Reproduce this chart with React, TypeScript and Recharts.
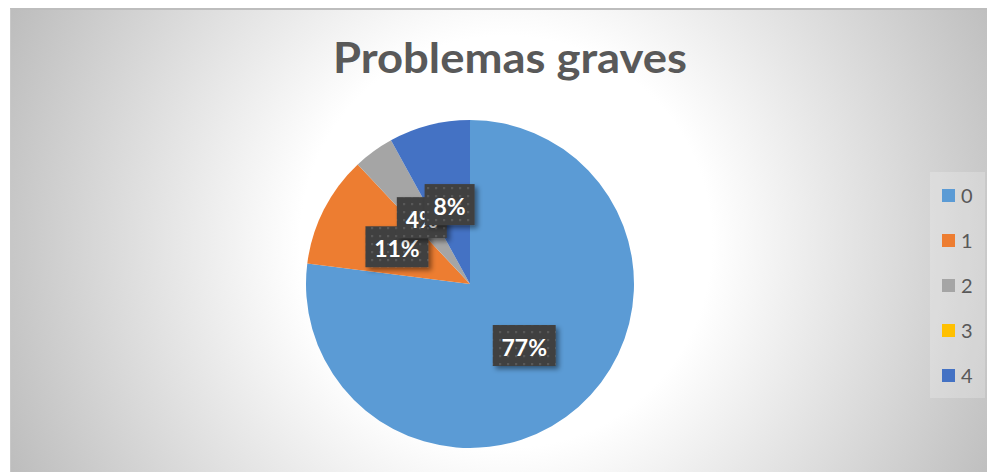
import React from 'react';
import { PieChart, Pie, Cell, Legend } from 'recharts';

const categories = ['0', '1', '2', '3', '4'];
const values = [77, 11, 4, 0, 8];
const colors = ['#5B9BD5', '#ED7D31', '#A5A5A5', '#FFC000', '#4472C4'];
const title = 'Problemas graves';

const data = categories.map((name, i) => ({ name, value: values[i] }));

const RAD = Math.PI / 180;

const renderLabel = (props: any) => {
  const { cx, cy, midAngle, outerRadius, percent, value, index } = props;
  if (!value) return null;
  const r = outerRadius * 0.5;
  const x = cx + r * Math.cos(-midAngle * RAD);
  const y = cy + r * Math.sin(-midAngle * RAD);
  const text = Math.round(percent * 100) + '%';
  const w = 16 + (text.length - 1) * 13 + 21;
  const h = 41;
  return (
    <g key={'lbl' + index}>
      <defs>
        <pattern id="lblDots" width="8" height="8" patternUnits="userSpaceOnUse">
          <rect width="8" height="8" fill="#404040" />
          <rect x="3" y="3" width="2.2" height="2.2" fill="#585858" />
        </pattern>
        <filter id="lblShadow" x="-30%" y="-30%" width="170%" height="180%">
          <feDropShadow dx="3" dy="3" stdDeviation="2.5" floodColor="#000" floodOpacity="0.45" />
        </filter>
      </defs>
      <rect x={x - w / 2} y={y - h / 2} width={w} height={h} fill="url(#lblDots)" filter="url(#lblShadow)" />
      <text
        x={x}
        y={y + 1}
        textAnchor="middle"
        dominantBaseline="central"
        fill="#ffffff"
        fontFamily="Lato, 'Open Sans', sans-serif"
        fontWeight={700}
        fontSize={23}
      >
        {text}
      </text>
    </g>
  );
};

const renderLegend = (props: any) => {
  const payload = props.payload || [];
  return (
    <div
      style={{
        width: 55,
        height: 226,
        background: 'rgba(255,255,255,0.22)',
        position: 'relative',
      }}
    >
      {payload.map((entry: any, i: number) => (
        <div
          key={'leg' + i}
          style={{
            position: 'absolute',
            left: 12,
            top: 23 - 11 + i * 45,
            height: 22,
            display: 'flex',
            alignItems: 'center',
          }}
        >
          <span style={{ width: 13, height: 13, background: entry.color, display: 'inline-block' }} />
          <span
            style={{
              marginLeft: 6,
              fontFamily: "Lato, 'Open Sans', sans-serif",
              fontSize: 20,
              color: '#595959',
              lineHeight: '22px',
            }}
          >
            {entry.value}
          </span>
        </div>
      ))}
    </div>
  );
};

export default function App() {
  return (
    <div style={{ position: 'absolute', left: 0, top: 0, width: 987, height: 472, overflow: 'hidden', background: '#ffffff' }}>
      <div
        style={{
          position: 'absolute',
          left: 10,
          top: 8,
          width: 1010,
          height: 480,
          borderTop: '2px solid #bdbdbd',
          borderLeft: '1px solid #c8c8c8',
          boxSizing: 'border-box',
          background: 'radial-gradient(circle 560px at 495px 232px, #ffffff 206px, #bdbdbd 545px)',
        }}
      />
      <svg width={987} height={472} style={{ position: 'absolute', left: 0, top: 0 }}>
        <text
          x={510}
          y={73}
          textAnchor="middle"
          fill="#595959"
          fontFamily="Lato, 'Open Sans', sans-serif"
          fontWeight={700}
          fontSize={42}
          textLength={354}
          lengthAdjust="spacingAndGlyphs"
        >
          {title}
        </text>
      </svg>
      <div style={{ position: 'absolute', left: 0, top: 0 }}>
        <PieChart width={987} height={472} margin={{ top: 0, right: 0, bottom: 0, left: 0 }}>
          <Pie
            data={data}
            dataKey="value"
            nameKey="name"
            cx={470}
            cy={284}
            outerRadius={164}
            startAngle={90}
            endAngle={-270}
            stroke="none"
            label={renderLabel}
            labelLine={false}
            isAnimationActive={false}
          >
            {data.map((d, i) => (
              <Cell key={'c' + i} fill={colors[i]} />
            ))}
          </Pie>
          <Legend
            content={renderLegend}
            wrapperStyle={{ position: 'absolute', left: 930, top: 172, width: 55, height: 226 }}
          />
        </PieChart>
      </div>
    </div>
  );
}
